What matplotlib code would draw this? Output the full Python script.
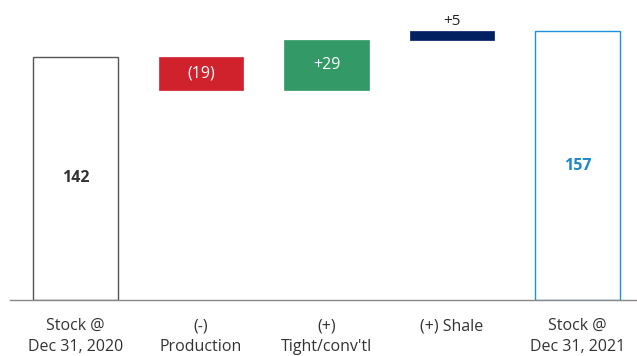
import matplotlib
matplotlib.use("Agg")
import matplotlib.pyplot as plt

categories = ["Stock @\nDec 31, 2020", "(-)\nProduction", "(+)\nTight/conv'tl", "(+) Shale\n", "Stock @\nDec 31, 2021"]
start_value = 142
changes = [-19, 29, 5]
end_value = 157
change_labels = ["(19)", "+29", "+5"]
change_colors = ["#D0222D", "#339966", "#002060"]

plt.rcParams['font.family'] = ['Open Sans', 'DejaVu Sans']

fig = plt.figure(figsize=(6.37, 3.56), dpi=100)
ax = fig.add_axes([10/637, 56/356, 627/637, 300/356])

w = 0.677
# start bar
ax.bar(0, start_value, width=w, facecolor="white", edgecolor="#555555", linewidth=1)
ax.text(0, start_value/2, str(start_value), ha="center", va="center", fontsize=11.5, fontweight="bold", color="#333333")

level = start_value
for i, (c, lab, col) in enumerate(zip(changes, change_labels, change_colors), start=1):
    bottom = level + min(c, 0)
    ax.bar(i, abs(c), bottom=bottom, width=w, color=col, edgecolor=col, linewidth=0.5)
    if abs(c) >= 10:
        ax.text(i, bottom + abs(c)/2, lab, ha="center", va="center", fontsize=11.5, color="white")
    else:
        ax.text(i, bottom + abs(c) + 1.5, lab, ha="center", va="bottom", fontsize=11, color="#222222")
    level += c

ax.bar(4, end_value, width=w, facecolor="white", edgecolor="#1E90DC", linewidth=1)
ax.text(4, end_value/2, str(end_value), ha="center", va="center", fontsize=11.5, fontweight="bold", color="#1B87C9")

ax.set_xlim(-0.522, 4.474)
ax.set_ylim(0, 175.3)
ax.set_xticks(range(5))
ax.set_xticklabels(categories, fontsize=11.5, color="#333333", linespacing=1.45)
ax.tick_params(axis="x", length=0, pad=13)
ax.set_yticks([])
for s in ["top", "right", "left"]:
    ax.spines[s].set_visible(False)
ax.spines["bottom"].set_color("#888888")
ax.spines["bottom"].set_linewidth(1)

fig.savefig("out.png", dpi=100)
